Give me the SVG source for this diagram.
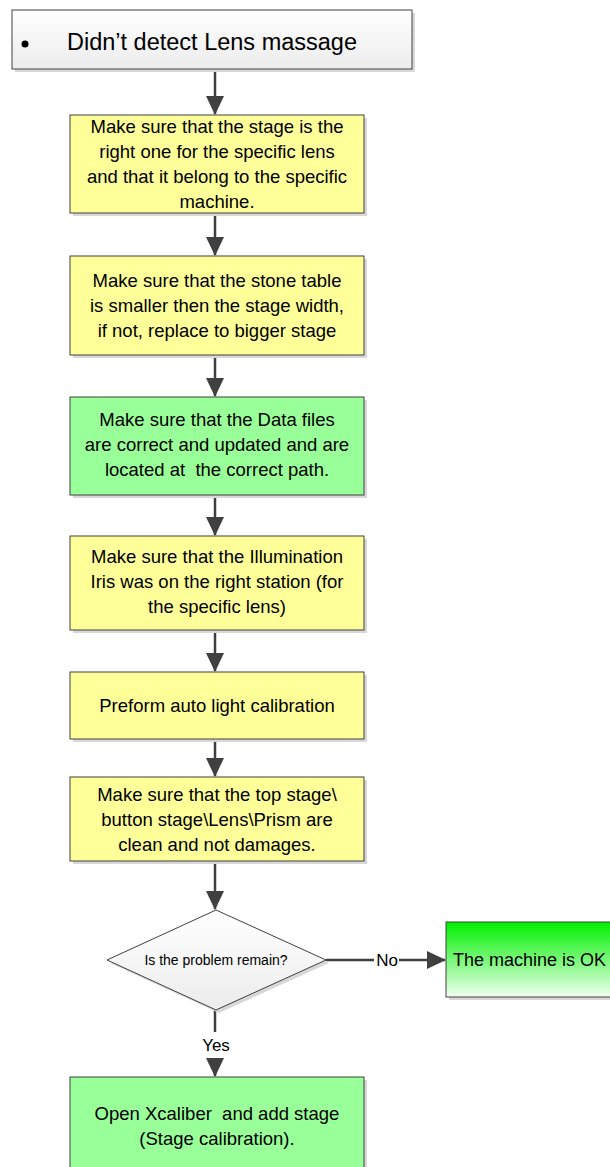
<svg xmlns="http://www.w3.org/2000/svg" width="610" height="1167" viewBox="0 0 610 1167">
<style>
.box{stroke:#404040;stroke-width:1}
.sh{fill:#d8d8d8}
.t{font-family:"Liberation Sans",Arial,sans-serif;font-size:18.5px;fill:#000;text-anchor:middle;white-space:pre}
.c{stroke:#404040;stroke-width:2.5;fill:none}
</style>
<defs>
<linearGradient id="gw" x1="0" y1="0" x2="0" y2="1"><stop offset="0" stop-color="#ffffff"/><stop offset="1" stop-color="#ececec"/></linearGradient>
<linearGradient id="gg" x1="0" y1="0" x2="0" y2="1"><stop offset="0" stop-color="#00f000"/><stop offset="1" stop-color="#f0fff0"/></linearGradient>
<marker id="ah" markerWidth="19" markerHeight="18" refX="18" refY="9" orient="auto" markerUnits="userSpaceOnUse"><path d="M0,0 L19,9 L0,18 Z" fill="#404040"/></marker>
</defs>
<g id="connectors">
<path class="c" d="M215,69 V114" marker-end="url(#ah)"/>
<path class="c" d="M215,213 V255" marker-end="url(#ah)"/>
<path class="c" d="M215,355 V396" marker-end="url(#ah)"/>
<path class="c" d="M215,495 V535" marker-end="url(#ah)"/>
<path class="c" d="M215,630 V671" marker-end="url(#ah)"/>
<path class="c" d="M215,739 V776" marker-end="url(#ah)"/>
<path class="c" d="M215,861 V909" marker-end="url(#ah)"/>
<path class="c" d="M326,960 H374 M399,960 H445" marker-end="url(#ah)"/>
<path class="c" d="M215,1010 V1032 M215,1058 V1076" marker-end="url(#ah)"/>
<text class="t" x="387" y="966" style="font-size:17px">No</text>
<text class="t" x="216" y="1051" style="font-size:17px">Yes</text>
</g>
<g id="start">
<rect class="sh" x="15" y="13" width="400" height="59"/>
<rect class="box" x="12" y="10" width="400" height="59" fill="url(#gw)"/>
<circle cx="25" cy="44" r="3.5" fill="#000"/>
<text class="t" x="212" y="50" style="font-size:23.5px">Didn’t detect Lens massage</text>
</g>
<g id="n1">
<rect class="sh" x="73" y="118" width="294" height="98"/>
<rect class="box" x="70" y="115" width="294" height="98" fill="#ffff99"/>
<text class="t" x="217" y="133">Make sure that the stage is the</text>
<text class="t" x="217" y="158">right one for the specific lens</text>
<text class="t" x="217" y="183">and that it belong to the specific</text>
<text class="t" x="217" y="208">machine.</text>
</g>
<g id="n2">
<rect class="sh" x="73" y="259" width="294" height="99"/>
<rect class="box" x="70" y="256" width="294" height="99" fill="#ffff99"/>
<text class="t" x="217" y="287">Make sure that the stone table</text>
<text class="t" x="217" y="312">is smaller then the stage width,</text>
<text class="t" x="217" y="337">if not, replace to bigger stage</text>
</g>
<g id="n3">
<rect class="sh" x="73" y="400" width="294" height="98"/>
<rect class="box" x="70" y="397" width="294" height="98" fill="#99ff99"/>
<text class="t" x="217" y="426">Make sure that the Data files</text>
<text class="t" x="217" y="451">are correct and updated and are</text>
<text class="t" x="217" y="476">located at  the correct path.</text>
</g>
<g id="n4">
<rect class="sh" x="73" y="539" width="294" height="94"/>
<rect class="box" x="70" y="536" width="294" height="94" fill="#ffff99"/>
<text class="t" x="217" y="563">Make sure that the Illumination</text>
<text class="t" x="217" y="588">Iris was on the right station (for</text>
<text class="t" x="217" y="613">the specific lens)</text>
</g>
<g id="n5">
<rect class="sh" x="73" y="675" width="294" height="67"/>
<rect class="box" x="70" y="672" width="294" height="67" fill="#ffff99"/>
<text class="t" x="217" y="712">Preform auto light calibration</text>
</g>
<g id="n6">
<rect class="sh" x="73" y="780" width="294" height="84"/>
<rect class="box" x="70" y="777" width="294" height="84" fill="#ffff99"/>
<text class="t" x="217" y="801">Make sure that the top stage\</text>
<text class="t" x="217" y="826">button stage\Lens\Prism are</text>
<text class="t" x="217" y="851">clean and not damages.</text>
</g>
<g id="decision">
<path d="M219,913 L329,963 L219,1013 L110,963 Z" fill="#d8d8d8"/>
<path class="box" d="M216,910 L326,960 L216,1010 L107,960 Z" fill="url(#gw)"/>
<text class="t" x="216" y="965" style="font-size:14px">Is the problem remain?</text>
</g>
<g id="ok">
<rect class="sh" x="449" y="925" width="170" height="75"/>
<rect class="box" x="446" y="922" width="170" height="75" fill="url(#gg)"/>
<text class="t" x="453" y="966" style="font-size:18px;text-anchor:start">The machine is OK</text>
</g>
<g id="n7">
<rect class="sh" x="73" y="1080" width="294" height="100"/>
<rect class="box" x="70" y="1077" width="294" height="100" fill="#99ff99"/>
<text class="t" x="217" y="1120">Open Xcaliber  and add stage</text>
<text class="t" x="217" y="1145">(Stage calibration).</text>
</g>
</svg>
